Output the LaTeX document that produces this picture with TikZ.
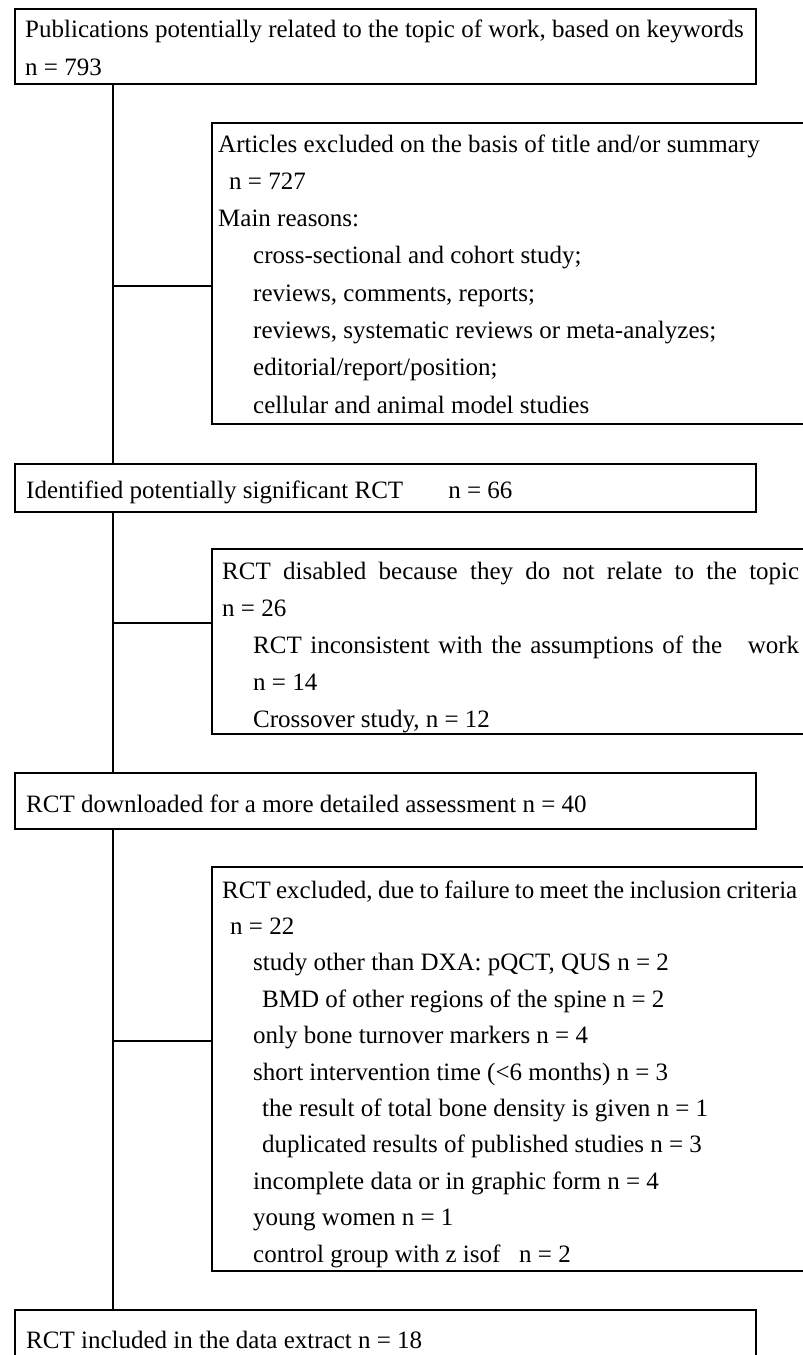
\documentclass[tikz,border=0pt]{standalone}
\usepackage{fontspec}
\setmainfont{Liberation Serif}
\usetikzlibrary{calc}

\begin{document}
\begin{tikzpicture}[x=1pt,y=-1pt,
    box/.style={draw, line width=1.5pt, inner sep=0pt, anchor=north west},
    txt/.style={anchor=base west, inner sep=0pt, font=\fontsize{25}{28}\selectfont},
    link/.style={line width=1.2pt}]
      \useasboundingbox (0,0) rectangle (803,1355);
      \clip (0,0) rectangle (803,1355);

      % Boxes
      \node[box, minimum width=741pt, minimum height=75pt] (pub) at (14,8) {};
      \node[box, minimum width=620pt, minimum height=301pt] (exA) at (211,122) {};
      \node[box, minimum width=741pt, minimum height=48pt] (ident) at (14,463) {};
      \node[box, minimum width=620pt, minimum height=185pt] (exB) at (211,548) {};
      \node[box, minimum width=741pt, minimum height=56pt] (down) at (14,772) {};
      \node[box, minimum width=620pt, minimum height=404pt] (exC) at (211,866) {};
      \node[box, minimum width=741pt, minimum height=80pt] (incl) at (14,1309) {};

      % Main column
      \coordinate (trunk) at (113,0);
      \draw[link] (pub.south -| trunk) -- (ident.north -| trunk);
      \draw[link] (ident.south -| trunk) -- (down.north -| trunk);
      \draw[link] (down.south -| trunk) -- (incl.north -| trunk);

      % Branches to the exclusion boxes
      \foreach \name/\y in {exA/286,exB/623,exC/1041}
      {
        \coordinate (br\name) at (113,\y);
        \draw[link] (br\name) -- (br\name -| \name.west);
      }

      % Main column texts
      \node[txt] (pubA) at (25,37) {Publications potentially related to the topic of work, based on keywords};
      \node[txt] (pubB) at (25,75) {n = 793};
      \node[txt] (identT) at (26,498) {Identified potentially significant RCT\hspace{1.8em}n = 66};
      \node[txt] (downT) at (26,812) {RCT downloaded for a more detailed assessment n = 40};
      \node[txt] (inclT) at (26,1348) {RCT included in the data extract n = 18};

      % First exclusion box
      \foreach \dx/\txt [count=\i from 0] in {218/{Articles excluded on the basis of title and/or summary},
        229/{n = 727}, 218/{Main reasons:}, 253/{cross-sectional and cohort study;},
        253/{reviews, comments, reports;}, 253/{reviews, systematic reviews or meta-analyzes;},
        253/{editorial/report/position;}, 253/{cellular and animal model studies}}
      {
        \node[txt] (exA\i) at (\dx,152+37.3*\i) {\txt};
      }

      % Second exclusion box
      \foreach \dx/\txt [count=\i from 0] in {222/{\makebox[577pt][s]{RCT disabled because they do not relate to the topic}},
        222/{n = 26}, 253/{\makebox[546pt][s]{RCT inconsistent with the assumptions of the \ \ work}},
        253/{n = 14}, 253/{Crossover study, n = 12}}
      {
        \node[txt] (exB\i) at (\dx,579+37*\i) {\txt};
      }

      % Third exclusion box
      \foreach \dx/\txt [count=\i from 0] in {222/{\makebox[575pt][s]{RCT excluded, due to failure to meet the inclusion criteria}},
        230/{n = 22}, 253/{study other than DXA: pQCT, QUS n = 2}, 262/{BMD of other regions of the spine n = 2},
        253/{only bone turnover markers n = 4}, 253/{short intervention time (<6 months) n = 3},
        262/{the result of total bone density is given n = 1}, 262/{duplicated results of published studies n = 3},
        253/{incomplete data or in graphic form n = 4}, 253/{young women n = 1},
        253/{control group with z isof\hspace{0.75em}n = 2}}
      {
        \node[txt] (exC\i) at (\dx,898+36.4*\i) {\txt};
      }
\end{tikzpicture}
\end{document}
